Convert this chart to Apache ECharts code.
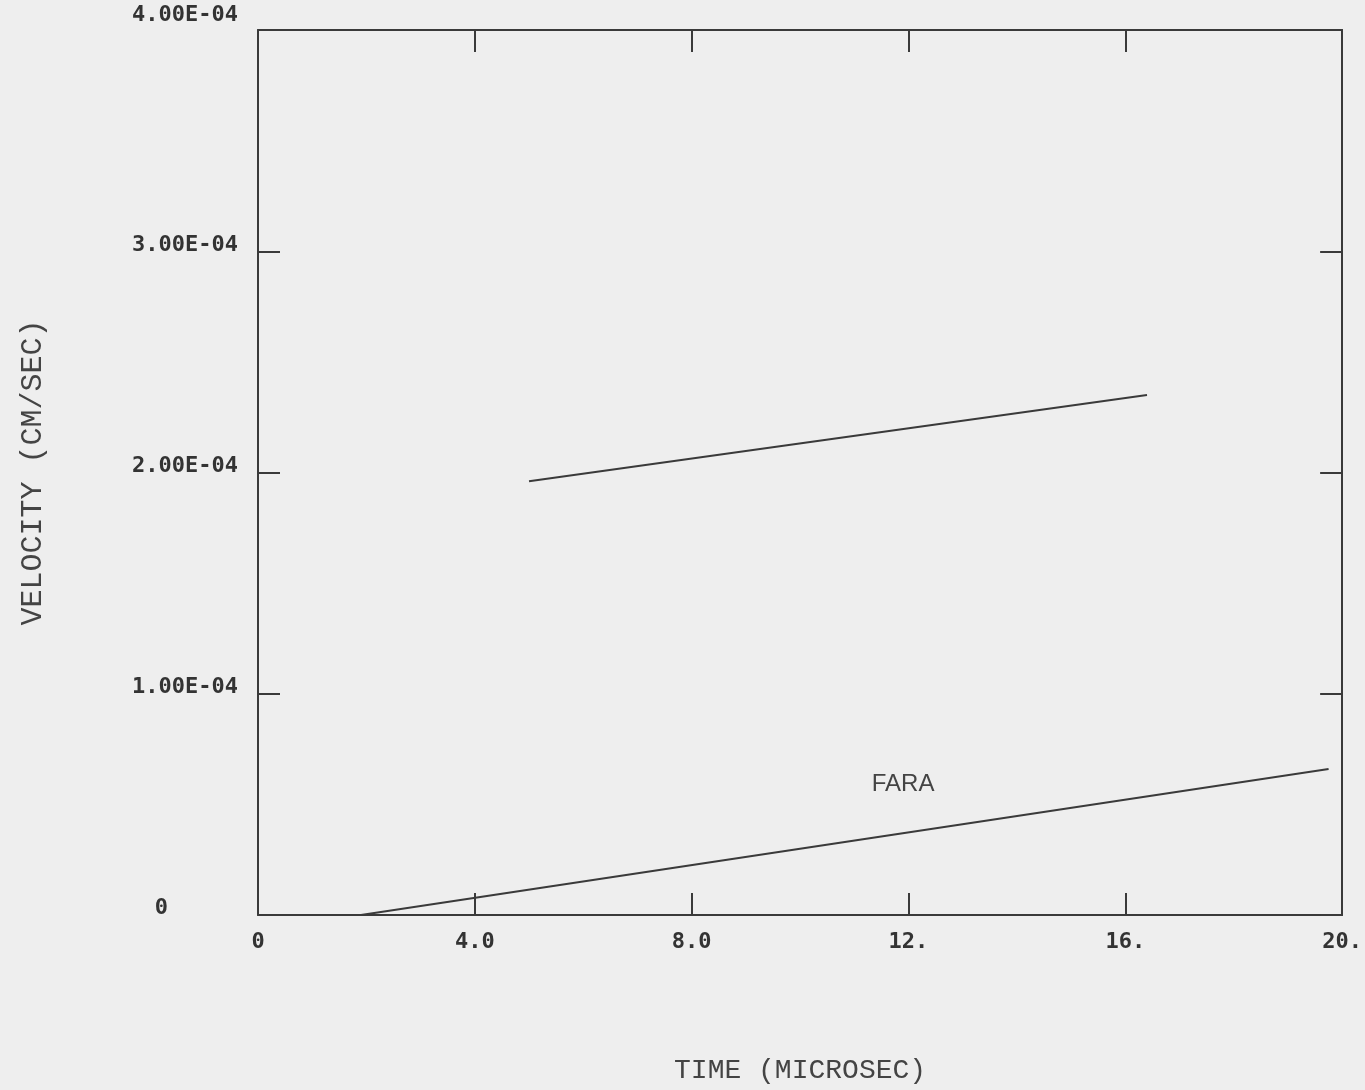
<!DOCTYPE html>
<html>
<head>
<meta charset="utf-8">
<script src="https://cdn.jsdelivr.net/npm/echarts@6/dist/echarts.min.js"></script>
<style>
html,body{margin:0;padding:0;background:#eeeeee;overflow:hidden;width:1365px;height:1090px;}
#chart{width:1365px;height:1090px;display:block;}
</style>
</head>
<body>
<div id="chart"></div>
<script>
// Data
const xTickLabels = ['0', '4.0', '8.0', '12.', '16.', '20.'];
const yTickLabels = ['0', '1.00E-04', '2.00E-04', '3.00E-04', '4.00E-04'];
const upperLine = [[5.0, 1.96e-4], [16.4, 2.35e-4]];
const faraLine = [[1.9, 0.0], [19.75, 0.66e-4]];
const faraLabel = { name: 'FARA', coord: [11.9, 0.59e-4] };

const ink = '#3a3a3a';
const chart = echarts.init(document.getElementById('chart'), null, { width: 1365, height: 1090 });
const tickStyle = { show: true, inside: true, length: 22, lineStyle: { color: ink, width: 2 } };
const lineStyleAxis = { show: true, onZero: false, lineStyle: { color: ink, width: 2 } };
const lab = { fontFamily: 'DejaVu Sans Mono', fontSize: 22, fontWeight: 'bold', color: '#333' };

chart.setOption({
  backgroundColor: '#eeeeee',
  animation: false,
  grid: { left: 258, top: 30, right: 18, bottom: 170, containLabel: false },
  xAxis: [
    {
      type: 'value', min: 0, max: 20, interval: 4, position: 'bottom',
      axisLine: lineStyleAxis, axisTick: tickStyle, splitLine: { show: false },
      axisLabel: Object.assign({
        margin: 16,
        formatter: (v) => xTickLabels[Math.round(v / 4)]
      }, lab),
      name: 'TIME (MICROSEC)', nameLocation: 'middle', nameGap: 142,
      nameTextStyle: { color: '#444', fontFamily: 'Liberation Mono', fontSize: 28 }
    },
    {
      type: 'value', min: 0, max: 20, interval: 4, position: 'top',
      axisLine: lineStyleAxis, axisTick: tickStyle, splitLine: { show: false },
      axisLabel: { show: false }
    }
  ],
  yAxis: [
    {
      type: 'value', min: 0, max: 4e-4, interval: 1e-4, position: 'left',
      axisLine: lineStyleAxis, axisTick: tickStyle, splitLine: { show: false },
      axisLabel: Object.assign({
        margin: 20, align: 'right', verticalAlign: 'middle',
        formatter: (v) => {
          const i = Math.round(v / 1e-4);
          if (i === 0) return '{z|' + yTickLabels[0] + '}';
          if (i === 4) return '{t|' + yTickLabels[4] + '}';
          return '{n|' + yTickLabels[i] + '}';
        },
        rich: {
          n: Object.assign({ padding: [0, 0, 12, 0] }, lab),
          z: Object.assign({ padding: [0, 70, 14, 0] }, lab),
          t: Object.assign({ padding: [0, 0, 30, 0] }, lab)
        }
      }, lab),
      name: 'VELOCITY (CM/SEC)', nameLocation: 'middle', nameGap: 210, nameRotate: 90,
      nameTextStyle: { color: '#444', fontFamily: 'Liberation Mono', fontSize: 30 }
    },
    {
      type: 'value', min: 0, max: 4e-4, interval: 1e-4, position: 'right',
      axisLine: lineStyleAxis, axisTick: tickStyle, splitLine: { show: false },
      axisLabel: { show: false }
    }
  ],
  series: [
    {
      type: 'line', data: upperLine, showSymbol: false, symbol: 'none',
      lineStyle: { color: ink, width: 2 }
    },
    {
      type: 'line', data: faraLine, showSymbol: false, symbol: 'none',
      lineStyle: { color: ink, width: 2 },
      markPoint: {
        symbol: 'circle', symbolSize: 0,
        label: { show: true, formatter: '{b}', color: '#444', fontFamily: 'Liberation Sans Narrow, Liberation Sans', fontSize: 24 },
        data: [faraLabel]
      }
    }
  ]
});
</script>
</body>
</html>
